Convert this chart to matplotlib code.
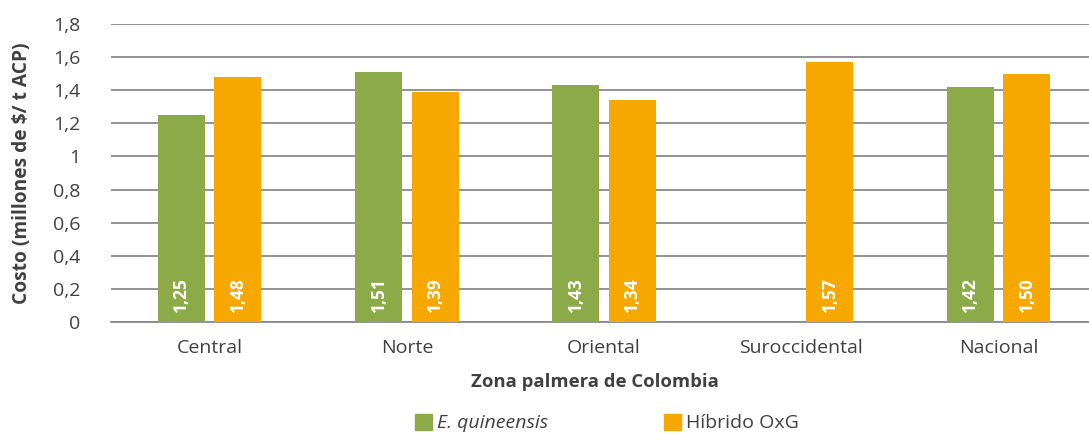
import numpy as np
import matplotlib
matplotlib.use('Agg')
import matplotlib.pyplot as plt
import matplotlib.patches as patch

# data
zonas = ['Central', 'Norte', 'Oriental', 'Suroccidental', 'Nacional']
guineensis = [1.25, 1.51, 1.43, np.nan, 1.42]
hibrido = [1.48, 1.39, 1.34, 1.57, 1.50]
yticks = [0, 0.2, 0.4, 0.6, 0.8, 1.0, 1.2, 1.4, 1.6, 1.8]
ytick_labels = ['0', '0,2', '0,4', '0,6', '0,8', '1', '1,2', '1,4', '1,6', '1,8']

green = '#8CAA48'
orange = '#F6A800'
text_col = '#404040'
grid_col = '#8a8a8a'

plt.rcParams['font.family'] = ['Open Sans', 'DejaVu Sans']

fig = plt.figure(figsize=(10.89, 4.34), dpi=100)
ax = fig.add_axes([111 / 1089, 1 - 322 / 434, 1 - 111 / 1089, (322 - 24) / 434])

x = np.arange(len(zonas))
w = 0.238
off = 0.143
bars_g = ax.bar(x - off, guineensis, width=w, color=green, zorder=3)
bars_o = ax.bar(x + off, hibrido, width=w, color=orange, zorder=3)

# value labels inside bars, rotated, near the base
for bars, vals in [(bars_g, guineensis), (bars_o, hibrido)]:
    for b, v in zip(bars, vals):
        if np.isnan(v):
            continue
        ax.annotate(('%.2f' % v).replace('.', ','),
                    xy=(b.get_x() + b.get_width() / 2, 0),
                    xytext=(0, 7), textcoords='offset points',
                    rotation=90, ha='center', va='bottom',
                    color='white', fontsize=12.5, fontweight='bold', zorder=4)

ax.set_xlim(-0.5, (1089 - 111) / 197.25 - 0.5)
ax.set_ylim(0, 1.8)
ax.set_yticks(yticks)
ax.set_yticklabels(ytick_labels)
ax.set_xticks(x)
ax.set_xticklabels(zonas)
ax.tick_params(axis='y', length=0, pad=22, labelsize=14, labelcolor=text_col)
ax.tick_params(axis='x', length=0, pad=12, labelsize=14, labelcolor=text_col)

ax.grid(axis='y', color=grid_col, linewidth=1.3, zorder=0)
for s in ['top', 'right', 'left']:
    ax.spines[s].set_visible(False)
ax.spines['bottom'].set_color(grid_col)
ax.spines['bottom'].set_linewidth(1.3)

fig.text(22 / 1089, 1 - 173 / 434, 'Costo (millones de $/ t ACP)', rotation=90,
         ha='center', va='center', fontsize=13.8, fontweight='bold', color=text_col)
fig.text(595 / 1089, 1 - 382 / 434, 'Zona palmera de Colombia',
         ha='center', va='center', fontsize=13.3, fontweight='bold', color=text_col)

# legend
green_patch = patch.Patch(color=green, label='E. quineensis')
orange_patch = patch.Patch(color=orange, label='Híbrido OxG')
leg = fig.legend(handles=[green_patch, orange_patch], loc='center',
                 bbox_to_anchor=(607 / 1089, 1 - 423 / 434), ncol=2, frameon=False,
                 fontsize=14, handlelength=0.875, handleheight=0.875,
                 handletextpad=0.25, columnspacing=6.0,
                 borderpad=0.0)
for t in leg.get_texts():
    t.set_color(text_col)
leg.get_texts()[0].set_fontstyle('italic')

fig.savefig('out.png', dpi=100)
